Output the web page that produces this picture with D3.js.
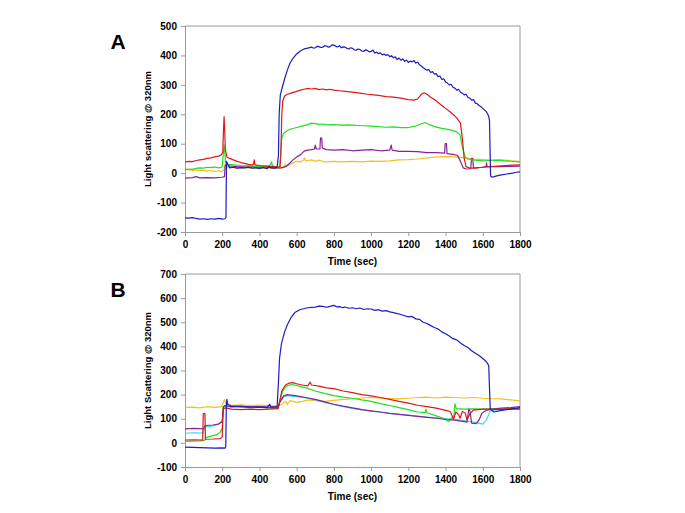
<!DOCTYPE html>
<html>
<head>
<meta charset="utf-8">
<script src="https://cdn.jsdelivr.net/npm/d3@7"></script>
<style>
  body { margin: 0; background: #fff; }
  svg { font-family: Arial, "Liberation Sans", sans-serif; }
</style>
</head>
<body>
<svg id="chart" width="685" height="513"></svg>
<script>
// light scattering traces, [time (sec), signal]

const timeTicks = [0, 200, 400, 600, 800, 1000, 1200, 1400, 1600, 1800];
const ticksA = [-200, -100, 0, 100, 200, 300, 400, 500];
const ticksB = [-100, 0, 100, 200, 300, 400, 500, 600, 700];

// ---- panel A ----
const blueA = [[0,-152],[20,-153],[40,-151],[60,-154],[80,-156],[100,-155],[120,-157],[140,-155],[160,-156],[180,-154],[200,-156],[215,-155],[220,-150],[223,40],[230,30],[240,18],[260,20],[280,17],[300,19],[320,18],[340,20],[360,17],[380,18],[400,16],[420,19],[440,15],[450,22],[460,18],[480,17],[495,20],[502,60],[506,200],[512,265],[520,285],[535,320],[550,350],[565,375],[580,390],[600,405],[620,415],[640,422],[660,425],[680,428],[690,425],[700,426],[710,431],[720,430],[730,427],[740,428],[750,433],[760,432],[770,428],[780,430],[790,436],[800,435],[810,431],[820,429],[830,433],[840,426],[850,429],[860,428],[870,424],[880,422],[890,426],[900,424],[910,419],[920,418],[930,422],[940,420],[950,415],[960,414],[970,419],[980,417],[990,412],[1000,414],[1010,418],[1020,408],[1030,411],[1040,406],[1050,409],[1060,402],[1070,405],[1080,400],[1090,403],[1100,396],[1110,399],[1120,392],[1130,395],[1140,386],[1150,391],[1160,384],[1170,388],[1180,380],[1190,384],[1200,376],[1210,381],[1220,378],[1230,383],[1240,374],[1250,377],[1260,368],[1270,364],[1280,358],[1290,354],[1300,350],[1310,352],[1320,342],[1330,345],[1340,336],[1350,338],[1360,328],[1370,330],[1380,318],[1390,321],[1400,310],[1410,306],[1420,300],[1430,302],[1440,292],[1450,289],[1460,282],[1470,285],[1480,275],[1490,272],[1500,266],[1510,268],[1520,258],[1530,255],[1540,248],[1550,250],[1560,238],[1570,236],[1580,230],[1590,226],[1600,220],[1610,214],[1620,208],[1630,196],[1636,180],[1642,-10],[1650,-14],[1670,-10],[1700,-6],[1730,-3],[1760,0],[1780,3],[1800,4]];
const redA = [[0,38],[20,40],[40,39],[60,43],[80,45],[100,47],[120,50],[140,52],[160,55],[180,58],[195,62],[203,70],[207,150],[210,192],[213,150],[217,80],[225,55],[240,50],[260,45],[280,40],[300,36],[320,33],[340,30],[360,28],[368,30],[372,45],[376,28],[400,26],[420,25],[440,24],[460,23],[480,22],[500,20],[510,22],[515,60],[520,200],[525,245],[535,262],[550,268],[570,272],[600,278],[620,282],[640,285],[660,288],[680,286],[700,288],[720,284],[740,286],[760,283],[780,285],[800,282],[830,280],[860,278],[900,275],[940,272],[980,268],[1000,267],[1040,264],[1080,260],[1120,258],[1160,255],[1200,250],[1230,248],[1250,252],[1270,268],[1285,273],[1300,268],[1320,258],[1340,250],[1360,240],[1380,230],[1400,220],[1420,210],[1440,200],[1460,188],[1480,170],[1490,120],[1500,50],[1510,22],[1530,17],[1560,18],[1600,20],[1640,22],[1680,24],[1720,26],[1760,27],[1800,28]];
const greenA = [[0,12],[20,14],[40,13],[60,16],[80,18],[100,17],[120,20],[140,19],[160,21],[180,18],[195,20],[200,22],[205,60],[210,95],[214,70],[218,35],[230,30],[260,28],[300,26],[340,25],[380,24],[420,22],[450,24],[460,30],[465,38],[470,25],[500,20],[510,22],[515,80],[520,120],[530,135],[550,145],[570,150],[600,155],[630,160],[660,165],[680,170],[700,168],[720,166],[740,167],[760,164],[800,165],[840,163],[880,164],[920,162],[960,161],[1000,160],[1040,158],[1080,156],[1120,157],[1160,155],[1200,155],[1240,160],[1270,168],[1290,172],[1310,166],[1340,158],[1380,152],[1420,148],[1460,140],[1478,130],[1490,90],[1505,55],[1520,48],[1540,45],[1560,44],[1600,42],[1640,43],[1680,44],[1720,42],[1760,40],[1800,38]];
const purpleA = [[0,-17],[40,-15],[60,-12],[80,-16],[120,-15],[160,-16],[200,-14],[212,-12],[216,25],[222,30],[240,25],[280,22],[320,21],[360,22],[400,20],[440,21],[480,18],[520,18],[540,22],[560,32],[580,45],[600,55],[620,62],[640,75],[660,78],[680,80],[695,82],[700,95],[705,82],[725,82],[728,120],[735,118],[738,85],[760,80],[800,78],[850,80],[900,76],[950,78],[1000,80],[1050,76],[1100,78],[1108,95],[1113,78],[1150,74],[1200,74],[1250,73],[1300,70],[1350,70],[1395,68],[1398,100],[1405,100],[1408,66],[1440,64],[1465,60],[1480,40],[1495,18],[1510,14],[1535,15],[1540,50],[1546,50],[1550,17],[1600,20],[1618,22],[1620,35],[1623,22],[1680,22],[1740,23],[1800,24]];
const yellowA = [[0,10],[20,12],[40,9],[60,11],[80,8],[100,10],[120,7],[140,9],[160,6],[180,8],[200,5],[210,12],[215,30],[222,22],[240,20],[280,18],[320,19],[360,17],[400,18],[440,16],[480,18],[510,17],[530,22],[540,30],[545,22],[560,28],[580,35],[600,40],[620,38],[638,45],[642,52],[648,42],[680,45],[700,40],[720,44],[750,38],[800,40],[850,38],[900,40],[950,38],[1000,41],[1050,40],[1100,42],[1150,45],[1200,46],[1250,48],[1300,52],[1350,55],[1400,56],[1450,55],[1500,52],[1550,48],[1600,46],[1650,44],[1700,45],[1750,42],[1800,40]];

// ---- panel B ----
const blueB = [[0,-18],[40,-19],[80,-20],[120,-21],[160,-22],[200,-21],[215,-22],[219,-15],[222,150],[225,180],[230,160],[250,152],[300,150],[350,148],[400,149],[440,146],[455,160],[462,148],[495,150],[502,250],[508,350],[518,410],[535,460],[550,490],[570,520],[590,540],[620,553],[660,560],[680,562],[700,563],[720,567],[740,566],[760,562],[770,564],[790,568],[800,570],[815,564],[830,565],[845,561],[860,563],[880,558],[900,560],[920,556],[940,559],[960,553],[980,556],[1000,555],[1020,549],[1040,552],[1060,546],[1080,548],[1100,543],[1120,540],[1140,536],[1160,532],[1180,527],[1200,522],[1220,524],[1240,514],[1260,512],[1280,500],[1300,495],[1320,486],[1340,478],[1360,472],[1380,460],[1400,452],[1420,443],[1440,432],[1460,427],[1480,414],[1500,404],[1520,395],[1540,382],[1560,372],[1580,362],[1600,350],[1620,336],[1632,320],[1640,140],[1660,128],[1700,135],[1750,140],[1800,146]];
const redB = [[0,12],[50,13],[95,12],[98,120],[107,122],[110,15],[150,16],[190,18],[200,25],[205,140],[215,145],[250,140],[300,138],[350,140],[400,138],[450,140],[500,142],[508,170],[520,215],[540,240],[560,248],[580,250],[600,245],[630,240],[660,236],[672,252],[680,240],[720,235],[760,228],[800,225],[850,215],[900,208],[950,200],[1000,195],[1050,188],[1100,180],[1150,172],[1200,165],[1250,156],[1300,150],[1350,144],[1400,135],[1425,130],[1443,98],[1455,128],[1470,118],[1478,102],[1490,130],[1505,125],[1515,95],[1530,120],[1550,136],[1600,140],[1650,140],[1700,138],[1750,142],[1800,140]];
const greenB = [[0,6],[40,7],[80,8],[105,10],[110,22],[150,30],[170,34],[188,43],[200,60],[205,150],[215,152],[250,148],[300,150],[350,146],[400,148],[450,145],[500,142],[510,175],[525,215],[545,235],[570,242],[600,238],[650,228],[700,215],[750,205],[800,196],[850,190],[900,185],[950,178],[1000,172],[1050,163],[1100,155],[1150,146],[1200,138],[1250,128],[1290,125],[1295,140],[1300,125],[1350,112],[1400,98],[1415,88],[1430,100],[1445,112],[1450,162],[1458,142],[1500,140],[1550,141],[1600,140],[1650,141],[1700,140],[1750,141],[1800,140]];
const purpleB = [[0,58],[50,60],[98,58],[105,68],[110,72],[150,74],[180,78],[200,88],[207,150],[215,155],[250,150],[300,152],[350,149],[400,150],[450,148],[500,148],[510,170],[530,195],[550,200],[570,198],[600,195],[650,188],[700,180],[750,170],[800,160],[850,152],[900,145],[950,138],[1000,133],[1050,128],[1100,122],[1150,118],[1200,114],[1250,110],[1300,106],[1350,102],[1400,97],[1450,94],[1500,88],[1515,86],[1525,140],[1532,130],[1540,82],[1565,80],[1580,95],[1595,123],[1622,136],[1650,140],[1700,144],[1750,146],[1800,150]];
const cyanB = [[0,40],[50,42],[98,41],[105,60],[110,66],[150,70],[180,78],[200,92],[207,150],[215,152],[250,150],[300,151],[350,149],[400,150],[450,147],[500,146],[510,168],[530,190],[550,196],[570,194],[600,192],[650,186],[700,178],[750,168],[800,158],[850,150],[900,143],[950,137],[1000,132],[1050,127],[1100,122],[1150,118],[1200,115],[1250,111],[1300,107],[1350,104],[1400,101],[1450,98],[1500,92],[1550,86],[1580,82],[1600,78],[1620,95],[1640,133],[1700,140],[1750,141],[1800,141]];
const yellowB = [[0,146],[40,148],[80,145],[120,150],[160,147],[195,150],[205,165],[212,180],[220,160],[250,156],[300,158],[350,155],[400,157],[450,154],[500,152],[520,160],[540,172],[550,160],[565,175],[600,168],[630,172],[665,178],[700,175],[750,172],[800,176],[850,180],[900,182],[950,186],[1000,188],[1050,185],[1100,184],[1150,182],[1200,185],[1250,188],[1300,190],[1350,186],[1400,190],[1450,188],[1500,186],[1550,188],[1600,185],[1650,183],[1700,182],[1750,178],[1800,174]];

const colors = {
  blue: "#1c1cc4",
  red: "#e01818",
  green: "#22dd22",
  purple: "#882299",
  yellow: "#f2c21c",
  cyan: "#33dde6"
};

const panels = [
  {
    label: "A", top: 26, bottom: 232, yDomain: [-200, 500], yTicks: ticksA,
    yTitle: "Light scattering @ 320nm",
    series: [
      { data: yellowA, color: colors.yellow },
      { data: purpleA, color: colors.purple },
      { data: greenA, color: colors.green },
      { data: redA, color: colors.red },
      { data: blueA, color: colors.blue }
    ]
  },
  {
    label: "B", top: 274, bottom: 467, yDomain: [-100, 700], yTicks: ticksB,
    yTitle: "Light Scattering @ 320nm",
    series: [
      { data: yellowB, color: colors.yellow },
      { data: cyanB, color: colors.cyan },
      { data: greenB, color: colors.green },
      { data: purpleB, color: colors.purple },
      { data: redB, color: colors.red },
      { data: blueB, color: colors.blue }
    ]
  }
];

const svg = d3.select("#chart");
const left = 185, right = 520;
const axisGray = "#9a9a9a";
const plainNum = d => String(d);   // hyphen minus, no thousands comma

panels.forEach(p => {
  const x = d3.scaleLinear().domain([0, 1800]).range([left, right]);
  const y = d3.scaleLinear().domain(p.yDomain).range([p.bottom, p.top]);

  // frame (top and right edges)
  svg.append("path")
    .attr("d", `M${left},${p.top}H${right}V${p.bottom}`)
    .attr("fill", "none")
    .attr("stroke", axisGray)
    .attr("stroke-width", 1);

  // y axis
  const yAxis = svg.append("g")
    .attr("transform", `translate(${left},0)`)
    .call(d3.axisLeft(y).tickValues(p.yTicks).tickFormat(plainNum)
      .tickSize(4).tickPadding(4).tickSizeOuter(0));

  // x axis
  const xAxis = svg.append("g")
    .attr("transform", `translate(0,${p.bottom})`)
    .call(d3.axisBottom(x).tickValues(timeTicks).tickFormat(plainNum)
      .tickSize(4).tickPadding(5).tickSizeOuter(0));

  [yAxis, xAxis].forEach(ax => {
    ax.select(".domain").attr("stroke", axisGray);
    ax.selectAll(".tick line").attr("stroke", axisGray);
    ax.selectAll(".tick text")
      .attr("fill", "#000")
      .attr("font-size", "10px")
      .attr("font-weight", "bold")
      .attr("font-family", "Arial, 'Liberation Sans', sans-serif");
  });

  // traces
  const line = d3.line()
    .x(d => x(d[0]))
    .y(d => y(d[1]));

  p.series.forEach(s => {
    svg.append("path")
      .datum(s.data)
      .attr("fill", "none")
      .attr("stroke", s.color)
      .attr("stroke-width", 1.2)
      .attr("stroke-linejoin", "round")
      .attr("d", line);
  });

  // axis titles
  svg.append("text")
    .attr("transform", `translate(151,${(p.top + p.bottom) / 2}) rotate(-90)`)
    .attr("text-anchor", "middle")
    .attr("font-size", "9.5px")
    .attr("font-weight", "bold")
    .text(p.yTitle);

  svg.append("text")
    .attr("x", (left + right) / 2)
    .attr("y", p.bottom + 33)
    .attr("text-anchor", "middle")
    .attr("font-size", "10px")
    .attr("font-weight", "bold")
    .text("Time (sec)");

  // panel letter
  svg.append("text")
    .attr("x", 118)
    .attr("y", p.top + 23)
    .attr("text-anchor", "middle")
    .attr("font-size", "21px")
    .attr("font-weight", "bold")
    .text(p.label);
});
</script>
</body>
</html>
